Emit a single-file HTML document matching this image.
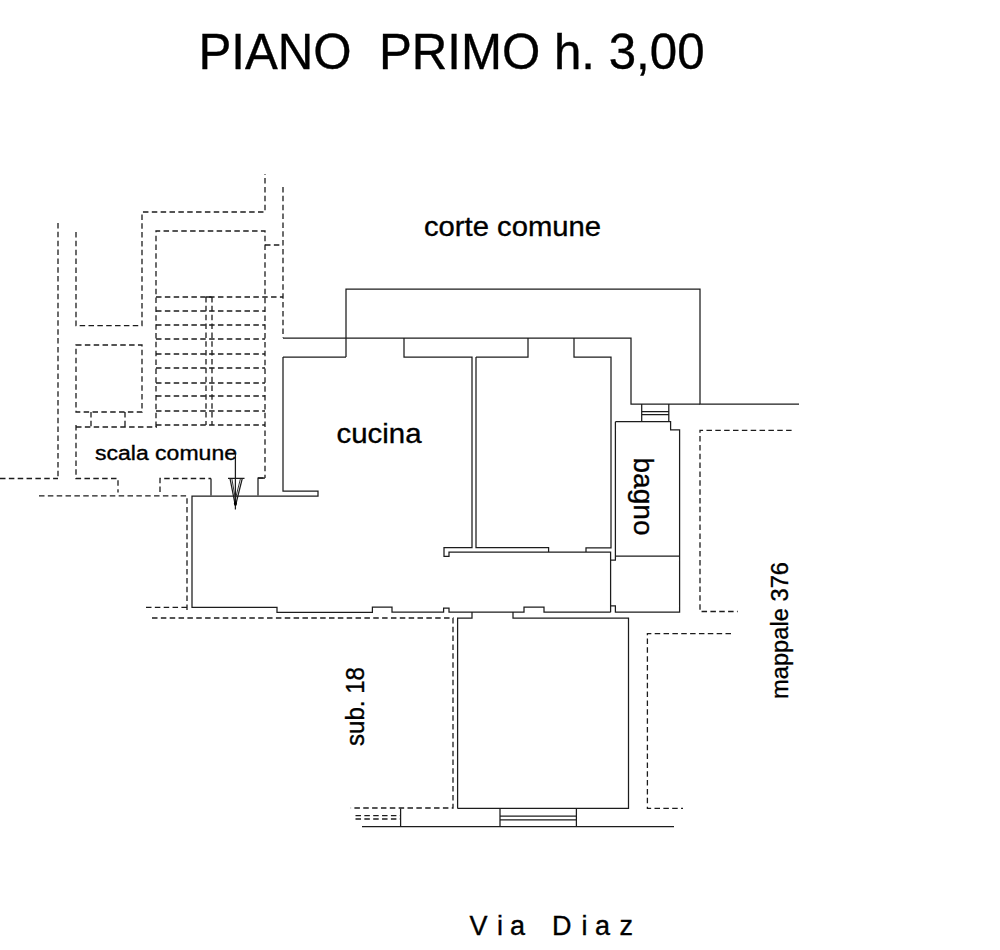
<!DOCTYPE html>
<html><head><meta charset="utf-8"><style>
html,body{margin:0;padding:0;background:#fff;width:1000px;height:950px;overflow:hidden}
svg{display:block}
text{font-family:"Liberation Sans",sans-serif;fill:#000;stroke:#000;stroke-width:0.35}
.s{fill:none;stroke:#1c1c1c;stroke-width:1.25}
.d{fill:none;stroke:#1c1c1c;stroke-width:1.3;stroke-dasharray:5.5 3.35}
</style></head><body>
<svg width="1000" height="950" viewBox="0 0 1000 950">
<rect width="1000" height="950" fill="#fff"/>
<!-- TEXT -->
<text id="t1" style="white-space:pre" x="198.5" y="69" font-size="50" textLength="506" lengthAdjust="spacingAndGlyphs">PIANO  PRIMO h. 3,00</text>
<text id="t2" x="424" y="235.7" font-size="27" textLength="177" lengthAdjust="spacingAndGlyphs">corte comune</text>
<text id="t3" x="336.5" y="442.8" font-size="28" textLength="85" lengthAdjust="spacingAndGlyphs">cucina</text>
<text id="t4" x="95" y="460" font-size="20" textLength="142" lengthAdjust="spacingAndGlyphs">scala comune</text>
<text id="t5" transform="translate(634,457.5) rotate(90)" font-size="28" textLength="78" lengthAdjust="spacingAndGlyphs">bagno</text>
<text id="t6" transform="translate(364,746) rotate(-90)" font-size="26" textLength="79" lengthAdjust="spacingAndGlyphs">sub. 18</text>
<text id="t7" transform="translate(788,699) rotate(-90)" font-size="23" textLength="137" lengthAdjust="spacingAndGlyphs">mappale 376</text>
<g id="t8" font-size="27">
<text x="469.5" y="935.2">V</text><text x="497" y="935.2">i</text><text x="510" y="935.2">a</text>
<text x="552" y="935.2">D</text><text x="581.5" y="935.2">i</text><text x="595" y="935.2">a</text><text x="619.5" y="935.2">z</text>
</g>

<!-- SOLID WALLS -->
<g class="s">
<path d="M346,357 V289 H700 V404 H799"/>
<path d="M283,338 H631 V404 H700"/>
<path d="M283,357 H346 M404,338 V357 H472 V547.6 H444 V556.4 H449 V552 H610.6 V612.2"/>
<path d="M476,357 H528 V338 M574,338 V357 H611 V547.8 H586 V552"/>
<path d="M476,357 V547.6 H548.6 V552"/>
<path d="M283,357 V491 H318 V496 H192 V607.4 H277 V612.4 H372.4 V607 H392 V612 H443.6 V608 H449 V612 H524 V607 H544 V612 H610.6"/>
<path d="M615.4,421.7 V560 H610.6 M615.4,556 H679.6 M610.6,605.8 H615.4 V612.2 H679.6 V429.8 H670.6 V421.7 H615.4"/>
<path d="M641.7,404 V421.7 M668.8,404 V421.7 M641.7,411.7 H668.8 M641.7,414.7 H668.8"/>
<path d="M457.6,808.4 V618.2 H472 V612 M513,612 V618.2 H628.5 V808.4 H457.6"/>
<path d="M500,808.4 V826.6 M576.4,808.4 V826.6 M500,816 H576.4 M500,819.8 H576.4 M362,826.6 H674 M400.6,808.4 V826.6"/>
<path d="M265,478 H258 V495.6 M211,478.4 V495.6"/>
<path d="M235.4,454 V509.5 M228,478.4 H244.5 M230,478.4 L235.4,506 L242.3,478.4"/>
<path d="M231.8,478.4 L235.4,499 L240.5,478.4" stroke-width="0.9"/>
</g>
<ellipse cx="235.4" cy="503.5" rx="1.5" ry="2.2" fill="#000"/>

<!-- DASHED -->
<g class="d">
<path d="M58,223 V479 M0,478.5 H58"/>
<path d="M76,232 V325.7 H142 V212 H265 V174"/>
<path d="M283,187 V338 M265,245 H283"/>
<path d="M156,427 V231 H265 V478 M258,478 H265"/>
<path d="M156,297 H283 M156,425 H265"/>
<path d="M206,297 V425 M212,297 V425 M206,297 H212"/>
<path d="M156,311 H265 M156,325 H265 M156,339 H265 M156,354 H265 M156,368 H265 M156,383 H265 M156,396 H265 M156,411 H265"/>
<path d="M76,345 H142 V412 H76 Z M91,412 V427 M125,412 V427 M76,427 H157"/>
<path d="M76,425 V478.5 H118 V492.6 M160,492 V478.5 H211"/>
<path d="M39,495.8 H187 V612.4 M146,607.4 H187 M152,618 H453 V808 H350.8"/>
<path d="M355.5,815.7 H400.6 M355.5,819 H400.6"/>
<path d="M791.6,430.3 H700 V611.5 H737.7"/>
<path d="M731,633.6 H647.4 V808.4 H683"/>
</g>
</svg>
</body></html>
